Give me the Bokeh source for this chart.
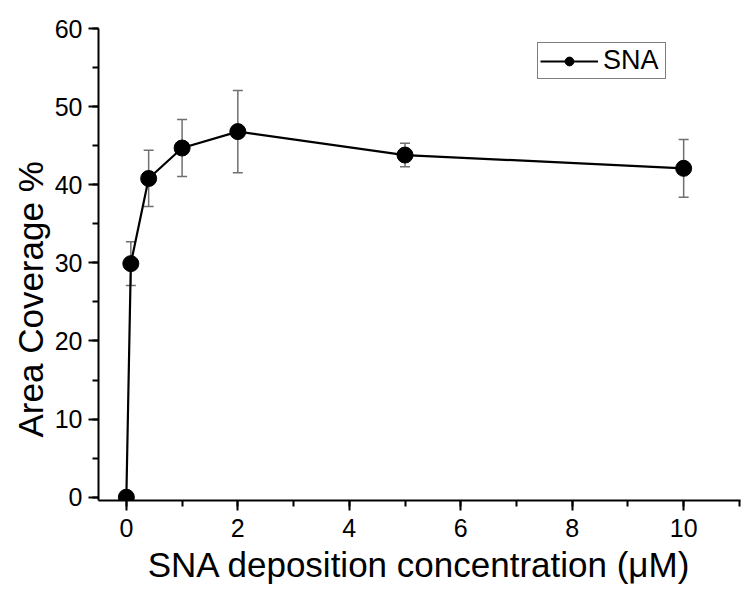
from bokeh.plotting import figure
from bokeh.models import (ColumnDataSource, Whisker, SingleIntervalTicker, Range1d,
                          Legend, LegendItem, TeeHead, Title)
from bokeh.embed import file_html
from bokeh.resources import INLINE

# ---- data ----
conc = [0, 0.08, 0.4, 1, 2, 5, 10]
coverage = [0, 29.9, 40.8, 44.7, 46.8, 43.8, 42.1]
error = [0, 2.8, 3.6, 3.65, 5.25, 1.5, 3.7]
series_name = "SNA"
x_title = "SNA deposition concentration (\u03bcM)"
y_title = "Area Coverage %"

FONT = "Liberation Sans"

src = ColumnDataSource(dict(
    x=conc, y=coverage,
    lo=[c - e for c, e in zip(coverage, error)],
    hi=[c + e for c, e in zip(coverage, error)],
))

p = figure(width=742, height=587, output_backend="svg", toolbar_location=None,
           x_range=Range1d(-0.5, 11.02), y_range=Range1d(-0.42, 60),
           min_border_left=98, min_border_right=2, min_border_top=28, min_border_bottom=87)
p.outline_line_color = None
p.grid.visible = False
p.background_fill_color = "white"
p.border_fill_color = "white"

whisker = Whisker(source=src, base="x", lower="lo", upper="hi",
                  line_color="#707070", line_width=1.5,
                  upper_head=TeeHead(size=10, line_color="#707070", line_width=1.5),
                  lower_head=TeeHead(size=10, line_color="#707070", line_width=1.5),
                  level="underlay")
p.add_layout(whisker)

ln = p.line("x", "y", source=src, line_color="black", line_width=2.2)
sc = p.scatter("x", "y", source=src, size=16, fill_color="black", line_color="black")

for ax in (p.xaxis[0], p.yaxis[0]):
    ax.axis_line_width = 2
    ax.axis_line_color = "black"
    ax.major_tick_line_width = 2
    ax.minor_tick_line_width = 2
    ax.major_tick_out = 10
    ax.major_tick_in = 0
    ax.minor_tick_out = 6
    ax.minor_tick_in = 0
    ax.major_label_text_font = FONT
    ax.major_label_text_font_size = "25px"
    ax.major_label_text_color = "black"
    ax.axis_label_text_font = FONT
    ax.axis_label_text_font_size = "35px"
    ax.axis_label_text_font_style = "normal"
    ax.axis_label_text_color = "black"

p.xaxis.ticker = SingleIntervalTicker(interval=2, num_minor_ticks=2)
p.yaxis.ticker = SingleIntervalTicker(interval=10, num_minor_ticks=2)
p.xaxis.axis_label = x_title
p.xaxis.major_label_standoff = 8
p.yaxis.major_label_standoff = 6
p.xaxis.axis_label_standoff = 5

# y-axis title placed below centre, as in the reference
ytitle = Title(text=y_title, align="left", offset=63, standoff=0, vertical_align="top",
               text_font=FONT, text_font_size="35px", text_font_style="normal",
               text_color="black")
p.add_layout(ytitle, "left")

legend = Legend(items=[LegendItem(label=series_name, renderers=[ln, sc])],
                location=(439, 421), padding=2, margin=0, spacing=0,
                glyph_width=58, glyph_height=22, label_standoff=5, label_width=60,
                label_text_font=FONT, label_text_font_size="27px",
                label_text_color="black",
                border_line_color="black", border_line_width=1,
                background_fill_alpha=1.0)
p.add_layout(legend, "center")

open("out.html", "w").write(file_html(p, INLINE))
